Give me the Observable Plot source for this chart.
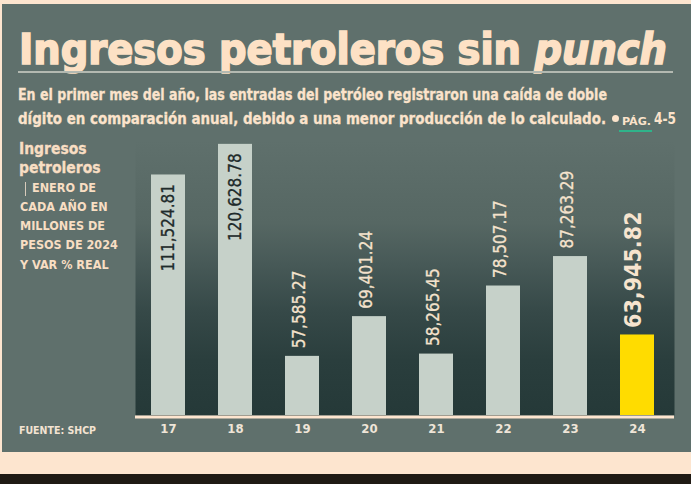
<!DOCTYPE html>
<html><head><meta charset="utf-8">
<script src="https://cdn.jsdelivr.net/npm/d3@7"></script>
<script src="https://cdn.jsdelivr.net/npm/@observablehq/plot@0.6"></script>
<style>
html,body{margin:0;padding:0;background:#fde5cf;}
#wrap{position:relative;width:691px;height:484px;overflow:hidden;background:#fde5cf;font-family:"DejaVu Sans Condensed","DejaVu Sans",sans-serif;font-stretch:condensed;}
#panel{position:absolute;left:2px;top:4px;width:689px;height:448px;background:#5f706c;}
#band{position:absolute;left:0;top:474px;width:691px;height:10px;background:#201a14;}
.t{position:absolute;white-space:nowrap;transform-origin:0 0;line-height:1;font-weight:bold;color:#fbe3cb;}
#chart{position:absolute;left:0;top:135px;}
#chart svg{overflow:visible;}
#chart [aria-label^="x-axis"] text{font-size:13px;font-weight:bold;fill:#efe5d8;}
</style></head>
<body><div id="wrap">
<div id="panel"></div>
<div id="band"></div>
<div id="chart"></div>
</div>
<script>
// ---- data ----
const years = ["17","18","19","20","21","22","23","24"];
const values = [111524.81, 120628.78, 57585.27, 69401.24, 58265.45, 78507.17, 87263.29, 63945.82];
const highlightYear = "24";
const insideLabelYears = ["17","18"];
const yDomain = [40000, 121777];
const titleMain = "Ingresos petroleros sin ";
const titleItalic = "punch";
const subtitleLines = [
  "En el primer mes del año, las entradas del petróleo registraron una caída de doble",
  "dígito en comparación anual, debido a una menor producción de lo calculado."
];
const pageRefLabel = "PÁG.";
const pageRefNum = "4-5";
const sideTitle = ["Ingresos", "petroleros"];
const sideNote = ["ENERO DE", "CADA AÑO EN", "MILLONES DE", "PESOS DE 2024", "Y VAR % REAL"];
const source = "FUENTE: SHCP";

const FONT = '"DejaVu Sans Condensed","DejaVu Sans",sans-serif';
const wrap = document.getElementById("wrap");
function addText(txt, {left, baseline, fs, width, color, weight, style, html, stroke}) {
  const el = document.createElement("div");
  el.className = "t";
  if (html) el.innerHTML = html; else el.textContent = txt;
  el.style.fontSize = fs + "px";
  el.style.left = left + "px";
  el.style.top = (baseline - 0.846 * fs) + "px";
  if (color) el.style.color = color;
  if (weight) el.style.fontWeight = weight;
  if (style) el.style.fontStyle = style;
  if (stroke) el.style.webkitTextStroke = stroke;
  wrap.appendChild(el);
  if (width) {
    const w = el.getBoundingClientRect().width;
    el.style.transform = `scaleX(${width / w})`;
  }
  return el;
}
function addBox(left, top, w, h, bg, radius) {
  const el = document.createElement("div");
  Object.assign(el.style, {position:"absolute", left:left+"px", top:top+"px", width:w+"px", height:h+"px", background:bg, borderRadius: radius||0});
  wrap.appendChild(el);
}

// header
addText("", {left:19, baseline:64, fs:43, width:648, color:"#fde1c5", stroke:"1.6px #fde1c5",
  html: titleMain.replace(/ /g,"&nbsp;") + '<span style="font-style:oblique">' + titleItalic + '</span>'});
addBox(18, 71, 655, 2, "#b3b9b1");
addText(subtitleLines[0], {left:18, baseline:101, fs:16.5, width:589, stroke:"0.3px #fbe3cb"});
addText(subtitleLines[1], {left:18, baseline:125, fs:16.5, width:588, stroke:"0.3px #fbe3cb"});
addBox(612, 114.5, 7, 7, "#fbe3cb", "50%");
addText(pageRefLabel, {left:622, baseline:125, fs:10.5, width:29});
addText(pageRefNum, {left:654, baseline:125, fs:16, width:22});
addBox(619, 130, 33, 2, "#2fb38a");

// side notes
addText(sideTitle[0], {left:19, baseline:155.5, fs:15.5, color:"#f8dec3", stroke:"0.3px #f8dec3"});
addText(sideTitle[1], {left:19, baseline:174, fs:15.5, color:"#f8dec3", stroke:"0.3px #f8dec3"});
addBox(25, 182, 1, 14, "#d8cbbb");
const noteBase = [193, 212, 231, 250, 270];
sideNote.forEach((s, i) => addText(s, {left: i === 0 ? 32 : 20, baseline: noteBase[i], fs: 12.5, color:"#f8dec3"}));
addText(source, {left:19, baseline:434, fs:10.5, color:"#f3e3d2"});

// chart
const data = years.map((year, i) => ({year, value: values[i]}));
const fmt = d3.format(",.2f");
const normal = data.filter(d => d.year !== highlightYear);
const hi = data.filter(d => d.year === highlightYear);
const inside = data.filter(d => insideLabelYears.includes(d.year));
const outside = data.filter(d => !insideLabelYears.includes(d.year) && d.year !== highlightYear);

const plot = Plot.plot({
  width: 691, height: 317,
  marginLeft: 135, marginRight: 17, marginTop: 5, marginBottom: 37,
  style: {background: "transparent", fontFamily: FONT, color: "#efe5d8"},
  x: {type: "band", domain: years, paddingInner: 0.5, paddingOuter: 0.235, align: 0.43, label: null, tickSize: 0, tickPadding: 8},
  y: {domain: yDomain, axis: null},
  marks: [
    Plot.frame({fill: "url(#bggrad)", stroke: "none"}),
    Plot.barY(normal, {x: "year", y1: yDomain[0], y2: "value", fill: "#c6d1c9"}),
    Plot.barY(hi, {x: "year", y1: yDomain[0], y2: "value", fill: "#ffdc00"}),
    Plot.ruleY([yDomain[0]], {stroke: "#fde5cf", strokeWidth: 3, dy: 1.5}),
    Plot.text(inside, {x: "year", y: "value", text: d => fmt(d.value), rotate: -90, textAnchor: "end", dy: 9, fill: "#1f2b2b", fontSize: 17, fontFamily: FONT, stroke: "#1f2b2b", strokeWidth: 0.3}),
    Plot.text(outside, {x: "year", y: "value", text: d => fmt(d.value), rotate: -90, textAnchor: "start", dy: -8, dx: -3, fill: "#f4e2cc", fontSize: 17, fontFamily: FONT, stroke: "#f4e2cc", strokeWidth: 0.3}),
    Plot.text(hi, {x: "year", y: "value", text: d => fmt(d.value), rotate: -90, textAnchor: "start", dy: -7, dx: -4, fill: "#f6e4cf", fontSize: 23, fontWeight: "bold", fontFamily: FONT})
  ]
});
const defs = d3.select(plot).insert("defs", ":first-child");
const g = defs.append("linearGradient").attr("id", "bggrad").attr("x1", 0).attr("y1", 0).attr("x2", 0).attr("y2", 1);
[[0, "#5f706c"], [0.3, "#566763"], [0.45, "#475957"], [0.62, "#364948"], [0.8, "#2a3e3d"], [1, "#253938"]]
  .forEach(([o, c]) => g.append("stop").attr("offset", o).attr("stop-color", c));
document.getElementById("chart").appendChild(plot);
</script>
</body></html>
